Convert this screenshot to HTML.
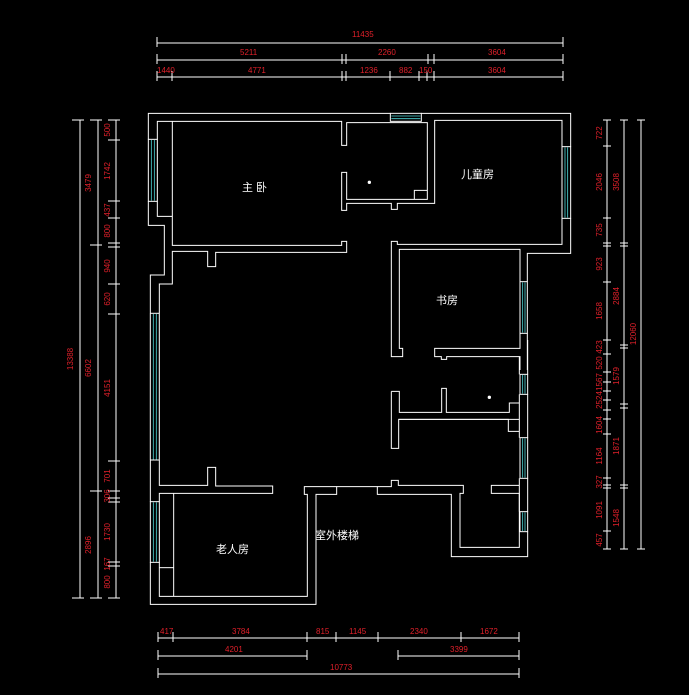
<!DOCTYPE html>
<html><head><meta charset="utf-8"><style>
html,body{margin:0;padding:0;background:#000;}
svg{display:block;}
.w{fill:none;stroke:#fff;stroke-width:3;}
.g{fill:none;stroke:#4fd8d8;stroke-width:2.4;}
.d{stroke:#fff;stroke-width:1;fill:none;}
.t{fill:#e0202a;font-family:"Liberation Sans",sans-serif;font-size:8px;}
.r{fill:#fff;font-family:"Liberation Sans","Noto Sans CJK SC",sans-serif;font-size:11px;}
</style></head><body>
<svg width="689" height="695" viewBox="0 0 689 695" xmlns="http://www.w3.org/2000/svg">
<rect width="689" height="695" fill="#000"/>
<!-- left long window (abs coords) -->
<g>
<line class="w" x1="150.3" y1="313.3" x2="150.3" y2="460" style="stroke-width:1"/>
<line class="w" x1="159.3" y1="313.3" x2="159.3" y2="460" style="stroke-width:1"/>
<line class="w" x1="150.3" y1="313.3" x2="159.3" y2="313.3" style="stroke-width:1"/>
<line class="w" x1="150.3" y1="460" x2="159.3" y2="460" style="stroke-width:1"/>
<line class="g" x1="153.3" y1="314" x2="153.3" y2="459.5" style="stroke-width:0.8"/>
<line class="g" x1="156.3" y1="314" x2="156.3" y2="459.5" style="stroke-width:0.8"/>
</g>
<!-- upper part -->
<g transform="translate(140,100) scale(0.33333)">
<polyline class="w" points="25,118 25,40 751,40"/>
<polyline class="w" points="844,40 1292,40 1292,140"/>
<polyline class="w" points="1292,355 1292,460 1162,460 1162,545"/>
<polyline class="w" points="1162,700 1162,810"/>
<polyline class="w" points="25,304 25,376 73,376 73,525 31,525 31,640"/>
<polyline class="w" points="52,118 52,64 605,64 605,136 620,136 620,68 862,68 862,298 620,298 620,217 605,217 605,331 620,331 620,310 754,310 754,328 772,328 772,310 884,310 884,61 1266,61 1266,140"/>
<polyline class="w" points="1266,355 1266,433 772,433 772,424 754,424 754,770 788,770 788,745 778,745 778,448 1140,448 1140,545"/>
<polyline class="w" points="1140,700 1140,745 884,745 884,770 904,770 904,778 920,778 920,770 1140,770 1140,810"/>
<polyline class="w" points="52,304 52,349 97,349"/>
<polyline class="w" points="97,64 97,436 605,436 605,424 620,424 620,457 227,457 227,500 203,500 203,454 97,454 97,552 58,552 58,640"/>
<polyline class="w" points="823,298 823,271 862,271"/>
<rect x="751" y="40" width="93" height="24" class="w"/>
<line class="g" x1="754" y1="48" x2="841" y2="48"/><line class="g" x1="754" y1="56" x2="841" y2="56"/>
<rect x="25" y="118" width="27" height="186" class="w"/>
<line class="g" x1="34" y1="120" x2="34" y2="302"/><line class="g" x1="43" y1="120" x2="43" y2="302"/>
<rect x="1266" y="140" width="26" height="215" class="w"/>
<line class="g" x1="1275" y1="142" x2="1275" y2="353"/><line class="g" x1="1283" y1="142" x2="1283" y2="353"/>
<rect x="1140" y="545" width="22" height="155" class="w"/>
<line class="g" x1="1148" y1="547" x2="1148" y2="698"/><line class="g" x1="1155" y1="547" x2="1155" y2="698"/>
<circle cx="688" cy="247" r="5" fill="#fff"/>
</g>
<!-- lower part -->
<g transform="translate(140,340) scale(0.33333)">
<rect x="31" y="485" width="27" height="182" class="w"/>
<line class="g" x1="40" y1="487" x2="40" y2="665"/><line class="g" x1="49" y1="487" x2="49" y2="665"/>
<polyline class="w" points="31,360 31,485"/>
<polyline class="w" points="31,667 31,793 528,793 528,463 590,463 590,440 712,440 712,463 934,463 934,650 1163,650 1163,575"/>
<polyline class="w" points="1163,515 1163,415"/><polyline class="w" points="1163,293 1163,163"/><polyline class="w" points="1163,103 1163,0"/>
<rect x="1140" y="103" width="23" height="60" class="w"/>
<line class="g" x1="1148" y1="105" x2="1148" y2="161"/><line class="g" x1="1155" y1="105" x2="1155" y2="161"/>
<rect x="1140" y="293" width="23" height="122" class="w"/>
<line class="g" x1="1148" y1="295" x2="1148" y2="413"/><line class="g" x1="1155" y1="295" x2="1155" y2="413"/>
<rect x="1140" y="515" width="23" height="60" class="w"/>
<line class="g" x1="1148" y1="517" x2="1148" y2="573"/><line class="g" x1="1155" y1="517" x2="1155" y2="573"/>
<polyline class="w" points="58,360 58,436 203,436 203,382 227,382 227,438 398,438 398,460 58,460 58,485"/>
<polyline class="w" points="58,667 58,769 502,769 502,463 493,463 493,440 590,440"/>
<polyline class="w" points="101,460 101,769"/><polyline class="w" points="58,683 101,683"/>
<polyline class="w" points="1138,49 1138,103"/><polyline class="w" points="1138,163 1138,293"/><polyline class="w" points="1138,415 1138,515"/>
<polyline class="w" points="754,154 778,154 778,217 905,217 905,145 919,145 919,217 1108,217 1108,189 1138,189"/>
<polyline class="w" points="754,154 754,325 776,325 776,238 1105,238 1105,274 1138,274"/>
<line class="w" x1="776" y1="238" x2="1138" y2="238"/>
<polyline class="w" points="712,440 754,440 754,421 775,421 775,436 970,436 970,460 960,460 960,622 1138,622 1138,460 1054,460 1054,436 1138,436"/>
<circle cx="1048" cy="172" r="5" fill="#fff"/>
</g>
<!-- room labels -->
<text class="r" x="242" y="191">主 卧</text>
<text class="r" x="461" y="178">儿童房</text>
<text class="r" x="436" y="304">书房</text>
<text class="r" x="216" y="553">老人房</text>
<text class="r" x="315" y="539">室外楼梯</text>
<!-- top dims -->
<g>
<line class="d" x1="157" y1="43" x2="563" y2="43"/>
<line class="d" x1="157" y1="60" x2="563" y2="60"/>
<line class="d" x1="157" y1="77" x2="563" y2="77"/>
<path class="d" d="M157,37V47M563,37V47M157,54V64M342,54V64M346,54V64M428,54V64M434,54V64M563,54V64M157,71V81M172,71V81M342,71V81M346,71V81M390,71V81M419,71V81M427,71V81M434,71V81M563,71V81"/>
<text class="t" x="352" y="37">11435</text>
<text class="t" x="240" y="55">5211</text>
<text class="t" x="378" y="55">2260</text>
<text class="t" x="488" y="55">3604</text>
<text class="t" x="157" y="73">1440</text>
<text class="t" x="248" y="73">4771</text>
<text class="t" x="360" y="73">1236</text>
<text class="t" x="399" y="73">882</text>
<text class="t" x="419" y="73">150</text>
<text class="t" x="488" y="73">3604</text>
</g>
<!-- left dims -->
<g>
<line class="d" x1="80" y1="120" x2="80" y2="598"/>
<line class="d" x1="98" y1="120" x2="98" y2="598"/>
<line class="d" x1="116" y1="120" x2="116" y2="598"/>
<path class="d" d="M72,120H84M72,598H84M90,120H102M90,245H102M90,491H102M90,598H102M108,120H120M108,140H120M108,201H120M108,218H120M108,243H120M108,247H120M108,284H120M108,314H120M108,461H120M108,491H120M108,498H120M108,502H120M108,562H120M108,566H120M108,598H120"/>
<g class="t" text-anchor="middle">
<text transform="translate(73,359) rotate(-90)">13388</text>
<text transform="translate(91,183) rotate(-90)">3479</text>
<text transform="translate(91,368) rotate(-90)">6602</text>
<text transform="translate(91,545) rotate(-90)">2896</text>
<text transform="translate(110,130) rotate(-90)">500</text>
<text transform="translate(110,171) rotate(-90)">1742</text>
<text transform="translate(110,210) rotate(-90)">437</text>
<text transform="translate(110,231) rotate(-90)">800</text>
<text transform="translate(110,266) rotate(-90)">940</text>
<text transform="translate(110,299) rotate(-90)">620</text>
<text transform="translate(110,388) rotate(-90)">4151</text>
<text transform="translate(110,476) rotate(-90)">701</text>
<text transform="translate(110,496) rotate(-90)">306</text>
<text transform="translate(110,532) rotate(-90)">1730</text>
<text transform="translate(110,564) rotate(-90)">167</text>
<text transform="translate(110,582) rotate(-90)">800</text>
</g>
</g>
<!-- right dims -->
<g>
<line class="d" x1="607" y1="120" x2="607" y2="549"/>
<line class="d" x1="624" y1="120" x2="624" y2="549"/>
<line class="d" x1="641" y1="120" x2="641" y2="549"/>
<path class="d" d="M603,120H611M603,146H611M603,218H611M603,243H611M603,246H611M603,282H611M603,340H611M603,354H611M603,372H611M603,382H611M603,391H611M603,400H611M603,410H611M603,419H611M603,434H611M603,478H611M603,485H611M603,488H611M603,531H611M603,549H611M620,120H628M620,243H628M620,246H628M620,345H628M620,348H628M620,404H628M620,408H628M620,485H628M620,488H628M620,549H628M637,120H645M637,549H645"/>
<g class="t" text-anchor="middle">
<text transform="translate(602,133) rotate(-90)">722</text>
<text transform="translate(602,182) rotate(-90)">2046</text>
<text transform="translate(602,230) rotate(-90)">735</text>
<text transform="translate(602,264) rotate(-90)">923</text>
<text transform="translate(602,311) rotate(-90)">1658</text>
<text transform="translate(602,347) rotate(-90)">423</text>
<text transform="translate(602,363) rotate(-90)">520</text>
<text transform="translate(602,382) rotate(-90)">1567</text>
<text transform="translate(602,400) rotate(-90)">2524</text>
<text transform="translate(602,425) rotate(-90)">1604</text>
<text transform="translate(602,456) rotate(-90)">1164</text>
<text transform="translate(602,482) rotate(-90)">327</text>
<text transform="translate(602,510) rotate(-90)">1091</text>
<text transform="translate(602,540) rotate(-90)">457</text>
<text transform="translate(619,182) rotate(-90)">3508</text>
<text transform="translate(619,296) rotate(-90)">2884</text>
<text transform="translate(619,376) rotate(-90)">1579</text>
<text transform="translate(619,446) rotate(-90)">1871</text>
<text transform="translate(619,518) rotate(-90)">1548</text>
<text transform="translate(636,334) rotate(-90)">12060</text>
</g>
</g>
<!-- bottom dims -->
<g>
<line class="d" x1="158" y1="638" x2="519" y2="638"/>
<line class="d" x1="158" y1="656" x2="307" y2="656"/>
<line class="d" x1="398" y1="656" x2="519" y2="656"/>
<line class="d" x1="158" y1="674" x2="519" y2="674"/>
<path class="d" d="M158,632V642M173,632V642M307,632V642M336,632V642M378,632V642M461,632V642M519,632V642M158,650V660M307,650V660M398,650V660M519,650V660M158,668V678M519,668V678"/>
<text class="t" x="160" y="634">417</text>
<text class="t" x="232" y="634">3784</text>
<text class="t" x="316" y="634">815</text>
<text class="t" x="349" y="634">1145</text>
<text class="t" x="410" y="634">2340</text>
<text class="t" x="480" y="634">1672</text>
<text class="t" x="225" y="652">4201</text>
<text class="t" x="450" y="652">3399</text>
<text class="t" x="330" y="670">10773</text>
</g>
</svg>
</body></html>
